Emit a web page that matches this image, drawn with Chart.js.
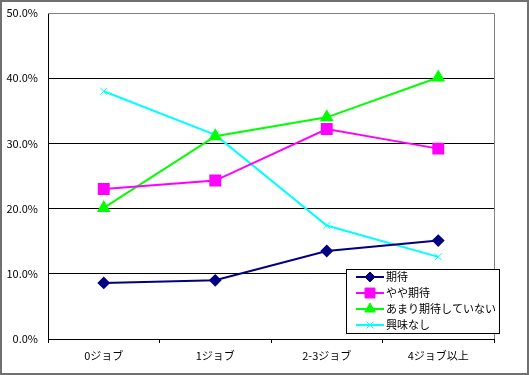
<!DOCTYPE html>
<html>
<head>
<meta charset="utf-8">
<script src="https://cdn.jsdelivr.net/npm/chart.js@4"></script>
<style>
  html, body { margin: 0; padding: 0; background: #fff; }
  canvas { display: block; }
</style>
</head>
<body>
<canvas id="line-chart" width="529" height="375"></canvas>
<script>
const categories = ['0ジョブ', '1ジョブ', '2-3ジョブ', '4ジョブ以上'];
const seriesNames = ['期待', 'やや期待', 'あまり期待していない', '興味なし'];
const kitai = [8.6, 9.0, 13.5, 15.1];
const yayaKitai = [23.0, 24.3, 32.2, 29.2];
const amariKitai = [20.1, 31.1, 34.0, 40.1];
const kyomiNashi = [38.0, 31.3, 17.4, 12.6];

const FONT = '"Noto Sans CJK JP", "DejaVu Sans", sans-serif';

const frame = {
    id: 'frame',
    beforeDraw(chart) {
        const c = chart.ctx;
        c.save();
        c.fillStyle = '#fff';
        c.fillRect(0, 0, chart.width, chart.height);
        c.strokeStyle = '#707070';
        c.lineWidth = 2;
        c.strokeRect(1, 1, chart.width - 2, chart.height - 2);
        c.restore();
    },
    beforeDatasetsDraw(chart) {
        const a = chart.chartArea;
        const c = chart.ctx;
        c.save();
        c.strokeStyle = '#808080';
        c.lineWidth = 1;
        c.beginPath();
        c.moveTo(a.left, a.top + 0.5);
        c.lineTo(a.right + 0.5, a.top + 0.5);
        c.lineTo(a.right + 0.5, a.bottom);
        c.stroke();
        c.restore();
    },
    afterDraw(chart) {
        // legend box
        const c = chart.ctx;
        const x0 = 346, y0 = 269, w = 153, h = 64;
        c.save();
        c.fillStyle = '#fff';
        c.fillRect(x0, y0, w, h);
        c.strokeStyle = '#000';
        c.lineWidth = 1;
        c.strokeRect(x0 + 0.5, y0 + 0.5, w, h);
        c.font = '11px ' + FONT;
        c.textBaseline = 'middle';
        chart.data.datasets.forEach((ds, i) => {
            const y = y0 + 8 + i * 16;
            c.strokeStyle = ds.borderColor;
            c.lineWidth = 2;
            c.beginPath();
            c.moveTo(356, y);
            c.lineTo(384, y);
            c.stroke();
            c.fillStyle = ds.pointBackgroundColor;
            c.strokeStyle = ds.borderColor;
            c.lineWidth = ds.pointBorderWidth || 1;
            Chart.helpers.drawPoint(c, {
                pointStyle: ds.pointStyle,
                radius: ds.pointRadius,
                rotation: 0,
                borderWidth: ds.pointBorderWidth || 1
            }, 370, y);
            c.fillStyle = '#000';
            c.fillText(ds.label, 386, y);
        });
        c.restore();
    }
};

new Chart(document.getElementById('line-chart'), {
    type: 'line',
    data: {
        labels: categories,
        datasets: [{
            label: seriesNames[0],
            data: kitai,
            borderColor: '#000080',
            backgroundColor: '#000080',
            pointBackgroundColor: '#000080',
            pointStyle: 'rectRot',
            pointRadius: 5,
            borderWidth: 2
        }, {
            label: seriesNames[1],
            data: yayaKitai,
            borderColor: '#ff00ff',
            backgroundColor: '#ff00ff',
            pointBackgroundColor: '#ff00ff',
            pointStyle: 'rect',
            pointRadius: 7,
            borderWidth: 2
        }, {
            label: seriesNames[2],
            data: amariKitai,
            borderColor: '#00ff00',
            backgroundColor: '#00ff00',
            pointBackgroundColor: '#00ff00',
            pointStyle: 'triangle',
            pointRadius: 6,
            borderWidth: 2
        }, {
            label: seriesNames[3],
            data: kyomiNashi,
            borderColor: '#00ffff',
            backgroundColor: '#00ffff',
            pointBackgroundColor: '#00ffff',
            pointStyle: 'crossRot',
            pointRadius: 5,
            pointBorderWidth: 1,
            borderWidth: 2
        }]
    },
    options: {
        responsive: false,
        animation: false,
        layout: { padding: { top: 13, right: 35, left: 0, bottom: 0 } },
        plugins: {
            legend: { display: false },
            tooltip: { enabled: false }
        },
        scales: {
            x: {
                offset: true,
                afterFit: s => { s.height = 36; s.paddingLeft = 0; s.paddingRight = 0; },
                grid: {
                    offset: true,
                    drawOnChartArea: false,
                    drawTicks: true,
                    tickLength: 4,
                    color: '#000'
                },
                border: { color: '#000', width: 1 },
                ticks: {
                    color: '#000',
                    padding: 6,
                    maxRotation: 0,
                    font: { family: FONT, size: 11 }
                }
            },
            y: {
                min: 0,
                max: 50,
                afterFit: s => { s.width = 48; s.paddingTop = 0; s.paddingBottom = 0; },
                grid: {
                    drawTicks: false,
                    color: ctx => ctx.tick && ctx.tick.value === 50 ? 'rgba(0,0,0,0)' : '#000'
                },
                border: { color: '#000', width: 1 },
                ticks: {
                    stepSize: 10,
                    padding: 10,
                    color: '#000',
                    font: { family: FONT, size: 11 },
                    callback: v => v.toFixed(1) + '%'
                }
            }
        }
    },
    plugins: [frame]
});
</script>
</body>
</html>
